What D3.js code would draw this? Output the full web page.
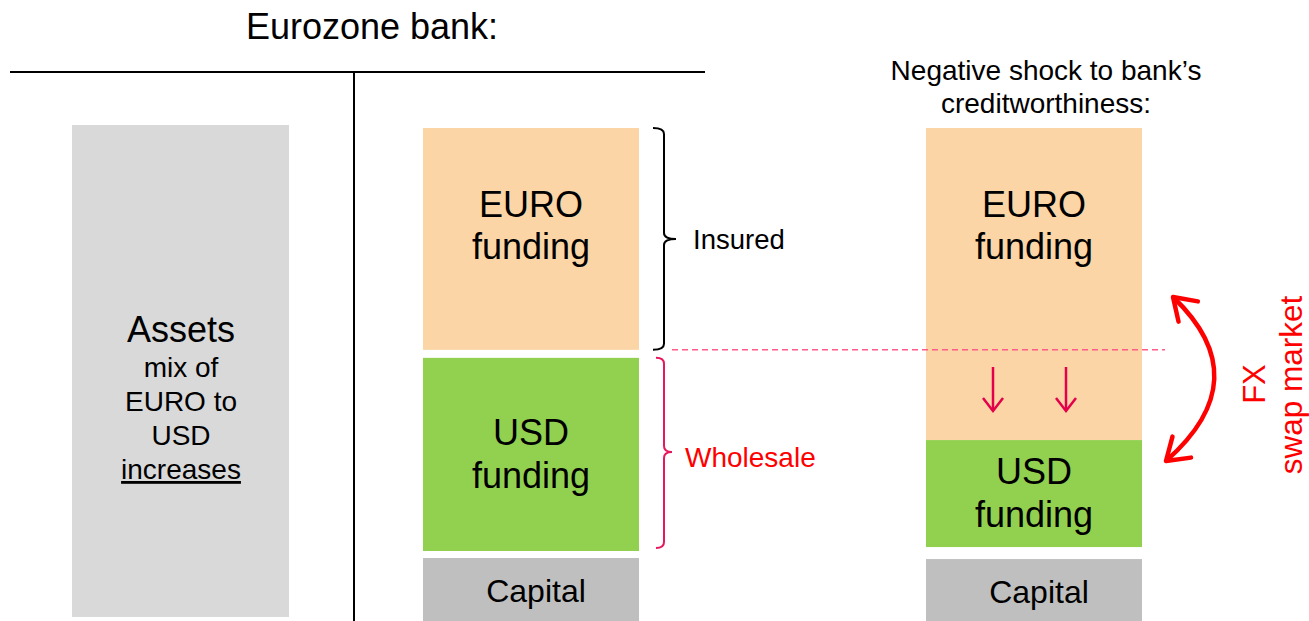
<!DOCTYPE html>
<html>
<head>
<meta charset="utf-8">
<script src="https://cdn.jsdelivr.net/npm/d3@7"></script>
<style>
  body { margin: 0; background: #fff; }
  text { font-family: "Liberation Sans", Arial, sans-serif; }
</style>
</head>
<body>
<div id="chart"></div>
<script>
// balance sheet shares (top to bottom), in % of total
let segments = ['EURO funding', 'USD funding', 'Capital'];
let beforeShares = [45, 40.8, 14.2];
let afterShares = [63.3, 21.7, 15];
let assetsShare = [100];
let assetsLines = ['mix of', 'EURO to', 'USD', 'increases'];

let width = 1309;
let height = 621;

let svg = d3.select('#chart')
	.append('svg')
	.attr('width', width)
	.attr('height', height);

let y = d3.scaleLinear()
	.domain([0, 100])
	.range([128, 621]);

let colX = d3.scaleOrdinal()
	.domain(['assets', 'before', 'after'])
	.range([72, 423, 926]);
let colW = 216;

let fills = {'EURO funding': '#fbd5a5', 'USD funding': '#92d050', 'Capital': '#bfbfbf'};
let gaps = {before: [0, 8, 7], after: [0, 0, 12]};
let lineDy = {'EURO funding': [-22, 20], 'USD funding': [-9.5, 33.5], 'Capital': [13]};
let labelDx = {'EURO funding': 0, 'USD funding': 0, 'Capital': 5};

function stack(shares, gap){
	let acc = 0;
	return shares.map(function(v, i){
		let s = {name: segments[i], y0: acc, y1: acc + v, gap: gap[i]};
		acc += v;
		return s;
	});
}

let before = stack(beforeShares, gaps.before);
let after = stack(afterShares, gaps.after);

// title + T account lines
svg.append('text')
	.attr('x', 372)
	.attr('y', 39)
	.attr('text-anchor', 'middle')
	.attr('font-size', 36)
	.text('Eurozone bank:');

svg.append('line')
	.attr('x1', 10).attr('x2', 705)
	.attr('y1', 72).attr('y2', 72)
	.attr('stroke', '#000').attr('stroke-width', 2);

svg.append('line')
	.attr('x1', 354).attr('x2', 354)
	.attr('y1', 72).attr('y2', height)
	.attr('stroke', '#000').attr('stroke-width', 2);

// assets
svg.append('rect')
	.attr('x', colX('assets'))
	.attr('y', y(0) - 3)
	.attr('width', colW + 1)
	.attr('height', y(assetsShare[0]) - y(0) - 1)
	.attr('fill', '#d9d9d9');

let ax = colX('assets') + colW / 2 + 1;
svg.append('text')
	.attr('x', ax).attr('y', 342)
	.attr('text-anchor', 'middle')
	.attr('font-size', 36)
	.text('Assets');

svg.selectAll('.asset-line')
	.data(assetsLines)
	.enter()
	.append('text')
	.attr('class', 'asset-line')
	.attr('x', ax)
	.attr('y', function(d, i){ return 377 + i * 34; })
	.attr('text-anchor', 'middle')
	.attr('font-size', 28)
	.attr('text-decoration', function(d){ return d === 'increases' ? 'underline' : null; })
	.text(function(d){ return d; });

// liabilities columns
function drawColumn(col, data){
	let g = svg.append('g').attr('class', col);

	g.selectAll('rect')
		.data(data)
		.enter()
		.append('rect')
		.attr('x', colX(col))
		.attr('y', function(d){ return y(d.y0) + d.gap; })
		.attr('width', colW)
		.attr('height', function(d){ return y(d.y1) - y(d.y0) - d.gap; })
		.attr('fill', function(d){ return fills[d.name]; });

	data.forEach(function(d, i){
		let c;
		if(d.name === 'EURO funding'){
			// label stays where it was before the shock
			c = (y(before[0].y0) + y(before[0].y1)) / 2;
		} else {
			c = (y(d.y0) + d.gap + y(d.y1)) / 2;
		}
		let words = d.name === 'Capital' ? ['Capital'] : d.name.split(' ');
		let size = d.name === 'Capital' ? 32 : 36;
		words.forEach(function(w, j){
			g.append('text')
				.attr('x', colX(col) + colW / 2 + labelDx[d.name])
				.attr('y', c + lineDy[d.name][j])
				.attr('text-anchor', 'middle')
				.attr('font-size', size)
				.text(w);
		});
	});
}

drawColumn('before', before);
drawColumn('after', after);

// braces
function brace(x0, xm, xt, y0, ym, y1, color){
	let r = 6;
	let p = 'M' + x0 + ',' + y0 +
		' Q' + xm + ',' + y0 + ' ' + xm + ',' + (y0 + r) +
		' L' + xm + ',' + (ym - r) +
		' Q' + xm + ',' + ym + ' ' + xt + ',' + ym +
		' Q' + xm + ',' + ym + ' ' + xm + ',' + (ym + r) +
		' L' + xm + ',' + (y1 - r) +
		' Q' + xm + ',' + y1 + ' ' + x0 + ',' + y1;
	svg.append('path')
		.attr('d', p)
		.attr('fill', 'none')
		.attr('stroke', color)
		.attr('stroke-width', 2);
}

let insY0 = y(before[0].y0), insY1 = y(before[0].y1);
brace(653, 664, 676, insY0, 239, insY1, '#000');
svg.append('text')
	.attr('x', 693).attr('y', 249)
	.attr('font-size', 27.5)
	.text('Insured');

let whY0 = y(before[1].y0) + before[1].gap, whY1 = y(before[1].y1) - 3;
brace(656, 664, 672, whY0, 452, whY1, '#e8175d');
svg.append('text')
	.attr('x', 685).attr('y', 467)
	.attr('font-size', 28)
	.attr('fill', '#ff0000')
	.text('Wholesale');

// old EURO/USD boundary
svg.append('line')
	.attr('x1', 672).attr('x2', 1165)
	.attr('y1', insY1).attr('y2', insY1)
	.attr('stroke', '#ff5c8a')
	.attr('stroke-width', 1.5)
	.attr('stroke-dasharray', '6,4');

// shock header
svg.append('text')
	.attr('x', 1046).attr('y', 80)
	.attr('text-anchor', 'middle')
	.attr('font-size', 28)
	.text('Negative shock to bank\u2019s');
svg.append('text')
	.attr('x', 1046).attr('y', 113)
	.attr('text-anchor', 'middle')
	.attr('font-size', 28)
	.text('creditworthiness:');

// down arrows
let defs = svg.append('defs');
defs.append('marker')
	.attr('id', 'head-small')
	.attr('markerUnits', 'userSpaceOnUse')
	.attr('viewBox', '-16 -12 20 24')
	.attr('markerWidth', 20).attr('markerHeight', 24)
	.attr('refX', 0).attr('refY', 0)
	.attr('orient', 'auto')
	.append('path')
	.attr('d', 'M-13,-10 L0,0 L-13,10')
	.attr('fill', 'none')
	.attr('stroke', '#e4004b')
	.attr('stroke-width', 2.5);

[993, 1066].forEach(function(x){
	svg.append('line')
		.attr('x1', x).attr('x2', x)
		.attr('y1', 367).attr('y2', 411)
		.attr('stroke', '#e4004b')
		.attr('stroke-width', 2.5)
		.attr('marker-end', 'url(#head-small)');
});

// FX swap double arrow
defs.append('marker')
	.attr('id', 'head-big')
	.attr('markerUnits', 'userSpaceOnUse')
	.attr('viewBox', '-26 -18 32 36')
	.attr('markerWidth', 32).attr('markerHeight', 36)
	.attr('refX', 0).attr('refY', 0)
	.attr('orient', 'auto-start-reverse')
	.append('path')
	.attr('d', 'M-21,-14 L0,0 L-21,14')
	.attr('fill', 'none')
	.attr('stroke', '#ff0000')
	.attr('stroke-width', 4.5)
	.attr('stroke-linecap', 'round')
	.attr('stroke-linejoin', 'round');

svg.append('path')
	.attr('d', 'M1173,297 Q1259,379 1166,461')
	.attr('fill', 'none')
	.attr('stroke', '#ff0000')
	.attr('stroke-width', 4.5)
	.attr('marker-start', 'url(#head-big)')
	.attr('marker-end', 'url(#head-big)');

svg.append('text')
	.attr('transform', 'translate(1265,384) rotate(-90)')
	.attr('text-anchor', 'middle')
	.attr('font-size', 31)
	.attr('fill', '#ff0000')
	.text('FX');
svg.append('text')
	.attr('transform', 'translate(1302,385) rotate(-90)')
	.attr('text-anchor', 'middle')
	.attr('font-size', 31.5)
	.attr('fill', '#ff0000')
	.text('swap market');
</script>
</body>
</html>
